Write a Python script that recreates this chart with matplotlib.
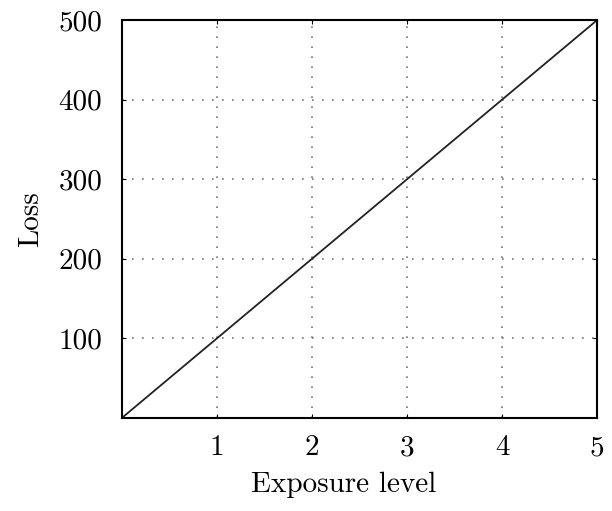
import numpy as np
import matplotlib
matplotlib.use("Agg")
import matplotlib.pyplot as plt

plt.rcParams['font.family'] = ['cmr10', 'DejaVu Serif']
plt.rcParams['mathtext.fontset'] = 'cm'
plt.rcParams['axes.formatter.use_mathtext'] = True

exposure = [0, 1, 2, 3, 4, 5]
loss = [0, 100, 200, 300, 400, 500]
x_ticks = [1, 2, 3, 4, 5]
y_ticks = [100, 200, 300, 400, 500]

fig = plt.figure(figsize=(6.12, 5.11), dpi=100)
ax = fig.add_axes([0.199, 0.182, 0.777, 0.779])

ax.plot(exposure, loss, color='#222222', lw=1.3)

ax.set_xlim(0, 5)
ax.set_ylim(0, 500)
ax.set_xticks(x_ticks)
ax.set_yticks(y_ticks)
ax.set_xticklabels([str(v) for v in x_ticks])
ax.set_yticklabels([str(v) for v in y_ticks])
ax.tick_params(direction='in', length=3, width=0.8, labelsize=21, pad=14,
               top=True, right=True)
ax.tick_params(axis='x', pad=12)
ax.grid(True, color='#777777', linestyle=(0, (1, 5)), lw=1.2)
for s in ax.spines.values():
    s.set_linewidth(1.5)

ax.set_xlabel("Exposure level", fontsize=21)
ax.xaxis.set_label_coords(0.467, -0.135)
ax.set_ylabel("Loss", fontsize=21, labelpad=10)

fig.savefig("out.png", dpi=100)
